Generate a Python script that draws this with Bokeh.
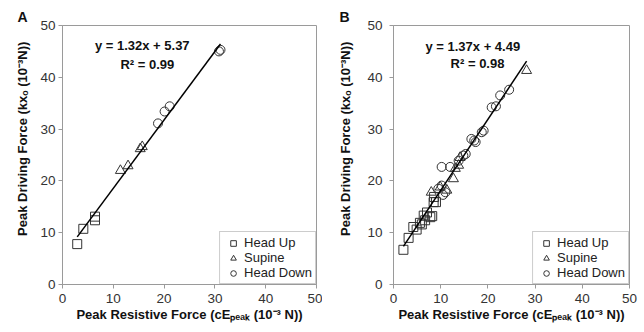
from bokeh.plotting import figure
from bokeh.models import Range1d, FixedTicker, Label, Legend, LegendItem, Title
from bokeh.layouts import row
from bokeh.embed import file_html
from bokeh.resources import INLINE

# ---------------- data ----------------
ticks = [0, 10, 20, 30, 40, 50]
legend_names = ["Head Up", "Supine", "Head Down"]

# Panel A
head_up_A_x = [2.9, 4.1, 6.4, 6.4]
head_up_A_y = [7.8, 10.75, 13.1, 12.4]
supine_A_x = [11.4, 12.9, 15.3, 15.7]
supine_A_y = [22.0, 22.9, 26.2, 26.6]
head_down_A_x = [18.8, 20.1, 21.1, 30.8, 31.1]
head_down_A_y = [31.1, 33.4, 34.4, 45.0, 45.3]
fit_A = [1.32, 5.37, 0.99]   # slope, intercept, R^2

# Panel B
head_up_B_x = [2.1, 3.2, 4.2, 4.9, 5.6, 6.0, 6.4, 6.7, 7.1, 7.8, 8.2, 8.5, 8.6, 9.0]
head_up_B_y = [6.7, 9.0, 11.1, 10.6, 11.9, 11.6, 13.3, 12.4, 13.9, 13.0, 13.2, 15.9, 16.9, 15.9]
supine_B_x = [8.0, 9.9, 11.3, 12.7, 13.1, 13.8, 14.1, 28.2]
supine_B_y = [17.8, 18.8, 18.2, 20.4, 22.4, 23.0, 24.5, 41.3]
head_down_B_x = [9.5, 10.2, 10.2, 10.5, 11.0, 12.0, 13.8, 14.8, 15.3, 16.5, 17.1, 17.4,
                 18.7, 19.1, 20.8, 21.7, 22.6, 24.5]
head_down_B_y = [18.5, 19.1, 22.7, 17.3, 17.8, 22.7, 23.9, 24.9, 25.2, 28.1, 27.8, 27.5,
                 29.4, 29.7, 34.2, 34.4, 36.5, 37.6]
fit_B = [1.37, 4.49, 0.98]

FONT = "Liberation Sans"
MARK = "#333333"
GRAY = "#9a9a9a"

x_label = "Peak Resistive Force (cEₚₑₐₖ (10⁻³ N))"
y_label = "\u00a0" * 9 + "Peak Driving Force (kxₒ (10⁻³N))"


def make_panel(letter, letter_offset, groups, fit, border_left, border_right,
               tick_standoff, label_standoff, eq_pos):
    p = figure(width=322, height=332, output_backend="svg", toolbar_location=None,
               x_range=Range1d(0, 50), y_range=Range1d(0, 50),
               min_border_left=border_left, min_border_right=border_right,
               min_border_top=25, min_border_bottom=48)
    p.add_layout(Title(text=letter, align="left", offset=letter_offset, standoff=2,
                       text_font=FONT, text_font_size="14px", text_font_style="bold",
                       text_color="#111111"), "above")
    p.grid.visible = False
    p.outline_line_color = GRAY
    p.outline_line_width = 1
    p.background_fill_color = "white"
    p.border_fill_color = "white"
    for ax in (p.xaxis[0], p.yaxis[0]):
        ax.ticker = FixedTicker(ticks=ticks)
        ax.axis_line_color = GRAY
        ax.major_tick_line_color = GRAY
        ax.major_tick_out = 4
        ax.major_tick_in = 0
        ax.minor_tick_line_color = None
        ax.major_label_text_font = FONT
        ax.major_label_text_font_size = "13.5px"
        ax.major_label_text_color = "#333333"
        ax.axis_label_text_font = FONT
        ax.axis_label_text_font_size = "13px"
        ax.axis_label_text_font_style = "bold"
        ax.axis_label_text_color = "#111111"
    p.xaxis[0].axis_label = x_label
    p.yaxis[0].axis_label = y_label
    p.xaxis[0].major_label_standoff = 5
    p.xaxis[0].axis_label_standoff = 1
    p.yaxis[0].major_label_standoff = tick_standoff
    p.yaxis[0].axis_label_standoff = label_standoff

    markers = ["square", "triangle", "circle"]
    sizes = [9, 10, 9]
    renderers = []
    for (xs, ys), m, s in zip(groups, markers, sizes):
        r = p.scatter(xs, ys, marker=m, size=s, fill_color=None, line_color=MARK, line_width=1)
        renderers.append(r)

    # trend line from fitted coefficients over the data range
    all_x = [v for xs, _ in groups for v in xs]
    x0, x1 = min(all_x), max(all_x)
    slope, icpt, r2 = fit
    p.line([x0, x1], [slope * x0 + icpt, slope * x1 + icpt], line_color="black", line_width=1.5)

    items = [LegendItem(label=n, renderers=[r]) for n, r in zip(legend_names, renderers)]
    leg = Legend(items=items, location="bottom_right", margin=0, padding=3, spacing=0,
                 label_height=14, glyph_height=14, glyph_width=20, label_standoff=1,
                 label_text_font=FONT, label_text_font_size="13px", label_text_color="#222222",
                 border_line_color=GRAY, border_line_width=1, background_fill_alpha=1)
    p.add_layout(leg)

    ex, ey1, ey2 = eq_pos
    p.add_layout(Label(x=ex, y=ey1, text=f"y = {slope:.2f}x + {icpt:.2f}", text_align="center",
                       text_baseline="middle", text_font=FONT, text_font_size="13px",
                       text_font_style="bold", text_color="#111111"))
    p.add_layout(Label(x=ex + 1, y=ey2, text=f"R² = {r2:.2f}", text_align="center",
                       text_baseline="middle", text_font=FONT, text_font_size="13px",
                       text_font_style="bold", text_color="#111111"))
    return p


pA = make_panel("A", -45, [(head_up_A_x, head_up_A_y), (supine_A_x, supine_A_y), (head_down_A_x, head_down_A_y)],
                fit_A, 62, 6, 3, 7, (15.7, 46.1, 42.4))

pB = make_panel("B", -54, [(head_up_B_x, head_up_B_y), (supine_B_x, supine_B_y), (head_down_B_x, head_down_B_y)],
                fit_B, 71, 15, 7, 11, (16.8, 46.0, 42.6))

layout = row(pA, pB)
open("out.html", "w").write(file_html(layout, INLINE))
